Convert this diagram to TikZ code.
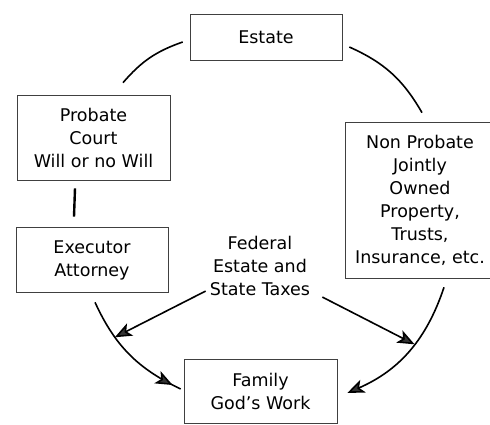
\documentclass[tikz,border=0pt]{standalone}
\usepackage{fontspec}
\setmainfont{DejaVu Sans}
\usetikzlibrary{arrows.meta}
\usetikzlibrary{decorations.markings}

\begin{document}
\begin{tikzpicture}[x=1pt,y=1pt,
  box/.style={draw=black!75,line width=0.6pt,align=center,inner sep=0pt,font=\fontsize{17.5}{23}\selectfont},
  link/.style={black,line width=1.6pt},
  tip/.style={-{Stealth[length=0.6cm,width=0.48cm,inset=0.15cm,fill=black!80]}}]
\useasboundingbox (0,0) rectangle (490,425);

% boxes
\node[box,minimum width=152pt,minimum height=46pt] (estate) at (266,388) {Estate};
\node[box,minimum width=153pt,minimum height=85pt] (probate) at (93.5,287.5) {Probate\\Court\\Will or no Will};
\node[box,minimum width=150pt,minimum height=156pt] (nonprobate) at (420,225) {Non Probate\\Jointly\\Owned\\Property,\\Trusts,\\Insurance, etc.};
\node[box,minimum width=152pt,minimum height=65pt] (executor) at (92,165) {Executor\\Attorney};
\node[box,minimum width=153pt,minimum height=64pt] (family) at (260.5,34) {Family\\God's Work};
\node[box,draw=none] (taxes) at (260,159) {Federal\\Estate and\\State Taxes};

% circle of connectors
\draw[link] ([shift={(-7,-5)}]estate.west) to[bend right=15] ([shift={(29.5,12)}]probate.north);
\draw[link] ([shift={(7,-10)}]estate.east) to[bend left=18] ([shift={(2,9)}]nonprobate.north);
\draw[black,line width=2.4pt] ([shift={(-18.5,-8)}]probate.south) -- ([shift={(-18,10.5)}]executor.north);
\draw[link,postaction={decorate},
  decoration={markings,mark=at position -9pt with {\arrow{Stealth[length=0.6cm,width=0.48cm,inset=0.15cm,fill=black!80]}}}]
  ([shift={(3,-9.5)}]executor.south) to[bend right=20] coordinate[pos=0.31] (onexecutor) ([shift={(-3,2)}]family.west);
\draw[link,tip] ([shift={(24,-9)}]nonprobate.south) to[bend left=24] coordinate[pos=0.43] (onnonprobate) ([shift={(10,-2)}]family.east);

% taxes
\draw[link,tip] ([shift={(-4,5)}]taxes.south west) -- (onexecutor);
\draw[link,tip] ([shift={(12,-1)}]taxes.south east) -- (onnonprobate);

\end{tikzpicture}
\end{document}
